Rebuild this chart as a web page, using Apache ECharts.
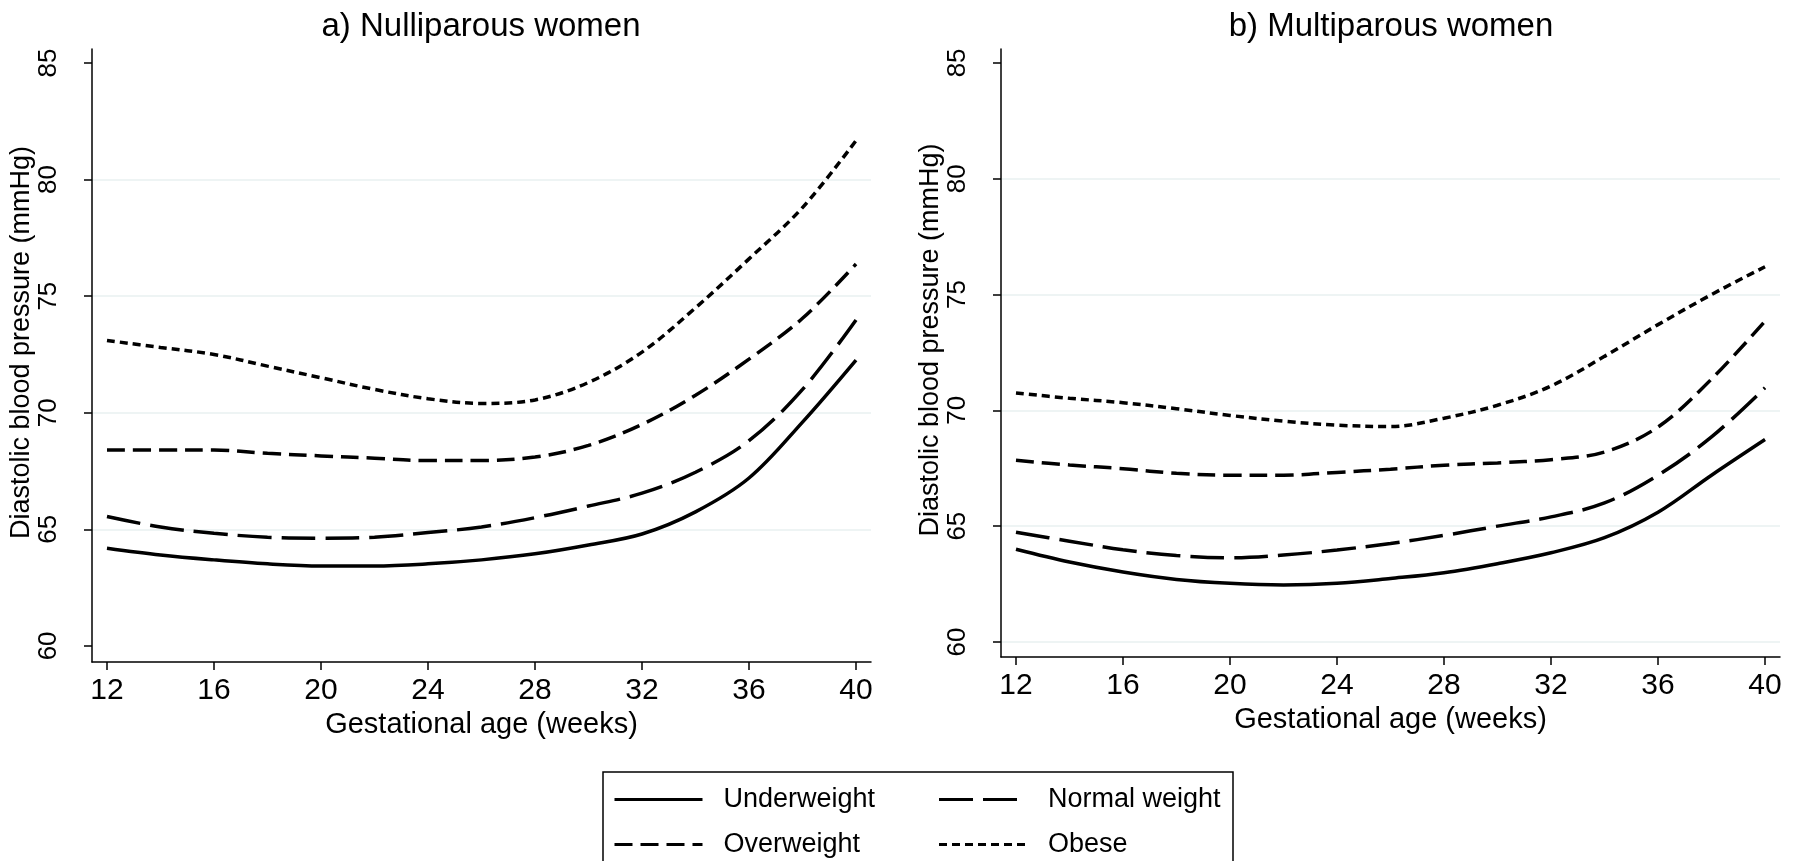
<!DOCTYPE html>
<html>
<head>
<meta charset="utf-8">
<title>Diastolic blood pressure by BMI</title>
<script src="https://cdn.jsdelivr.net/npm/echarts@6/dist/echarts.min.js"></script>
<style>
  html, body { margin: 0; padding: 0; background: #fff; }
  #chart { width: 1796px; height: 861px; }
</style>
</head>
<body>
<div id="chart"></div>
<script>
// gestational weeks (x) and tick labels
const weeks = [12, 14, 16, 18, 20, 22, 24, 26, 28, 30, 32, 34, 36, 38, 40]
const xTicks = [12, 16, 20, 24, 28, 32, 36, 40]
const yTicks = [60, 65, 70, 75, 80, 85]
const groups = ['Underweight', 'Normal weight', 'Overweight', 'Obese']

// a) nulliparous women
const nulliUnder = [64.19, 63.9, 63.69, 63.52, 63.43, 63.43, 63.52, 63.69, 63.95, 64.33, 64.8, 65.75, 67.2, 69.6, 72.26]
const nulliNormal = [65.55, 65.1, 64.83, 64.66, 64.62, 64.66, 64.86, 65.1, 65.5, 66.0, 66.55, 67.45, 68.8, 71.0, 73.98]
const nulliOver = [68.4, 68.4, 68.4, 68.26, 68.15, 68.05, 67.95, 67.95, 68.1, 68.6, 69.5, 70.75, 72.3, 74.05, 76.38]
const nulliObese = [73.1, 72.8, 72.5, 72.0, 71.5, 71.0, 70.6, 70.4, 70.55, 71.3, 72.6, 74.5, 76.6, 78.8, 81.67]

// b) multiparous women
const multiUnder = [64.0, 63.45, 63.02, 62.7, 62.53, 62.46, 62.53, 62.74, 62.99, 63.38, 63.85, 64.5, 65.6, 67.2, 68.74]
const multiNormal = [64.74, 64.35, 63.98, 63.73, 63.63, 63.75, 63.97, 64.25, 64.6, 65.0, 65.4, 66.0, 67.2, 68.85, 70.97]
const multiOver = [67.84, 67.64, 67.48, 67.28, 67.2, 67.2, 67.32, 67.46, 67.63, 67.73, 67.87, 68.2, 69.28, 71.35, 73.85]
const multiObese = [70.75, 70.52, 70.33, 70.07, 69.78, 69.53, 69.36, 69.3, 69.66, 70.22, 71.05, 72.33, 73.7, 75.0, 76.2]

const font = 'Liberation Sans, Arial, sans-serif'
const grid = '#e8f0f1'
const clear = 'rgba(0,0,0,0)'
// line pattern per BMI group
const dashes = ['solid', [34, 10], [18, 8], [8, 5]]

function pairs (vals) {
  return weeks.map((w, i) => [w, vals[i]])
}

function xAxisFor (idx) {
  return {
    gridIndex: idx,
    type: 'value',
    min: 11.44,
    max: 40.56,
    name: 'Gestational age (weeks)',
    nameLocation: 'middle',
    nameGap: 40,
    nameTextStyle: { fontFamily: font, fontSize: 29, color: '#000' },
    axisLine: { show: true, onZero: false, lineStyle: { color: '#000', width: 1.5 } },
    axisTick: { show: true, length: 8, customValues: xTicks, lineStyle: { color: '#000', width: 1.5 } },
    axisLabel: { customValues: xTicks, margin: 14, fontFamily: font, fontSize: 30, color: '#000' },
    splitLine: { show: false }
  }
}

function yAxisFor (idx, min, lineColors) {
  return {
    gridIndex: idx,
    type: 'value',
    min: min,
    max: 85.6,
    name: 'Diastolic blood pressure (mmHg)',
    nameLocation: 'middle',
    nameGap: 50,
    nameTextStyle: { fontFamily: font, fontSize: 27, color: '#000', padding: [0, 0, 0, 26] },
    axisLine: { show: true, onZero: false, lineStyle: { color: '#000', width: 1.5 } },
    axisTick: { show: true, length: 8, customValues: yTicks, lineStyle: { color: '#000', width: 1.5 } },
    axisLabel: { customValues: yTicks, rotate: 90, margin: 30, fontFamily: font, fontSize: 26, color: '#000' },
    splitLine: { show: true, lineStyle: { color: lineColors, width: 1.5 } }
  }
}

function lineSeries (name, vals, idx, k) {
  return {
    name: name,
    type: 'line',
    xAxisIndex: idx,
    yAxisIndex: idx,
    data: pairs(vals),
    smooth: 0.35,
    symbol: 'none',
    lineStyle: { color: '#000', width: 3.5, type: dashes[k] },
    itemStyle: { color: '#000' }
  }
}

const legendText = { fontFamily: font, fontSize: 27, lineHeight: 19, color: '#000', padding: [0, 0, 0, 16] }

const option = {
  backgroundColor: '#fff',
  animation: false,
  title: [
    { text: 'a) Nulliparous women', left: 481, top: 10, textAlign: 'center', padding: 0,
      textStyle: { fontFamily: font, fontSize: 33, fontWeight: 'normal', color: '#000' } },
    { text: 'b) Multiparous women', left: 1391, top: 10, textAlign: 'center', padding: 0,
      textStyle: { fontFamily: font, fontSize: 33, fontWeight: 'normal', color: '#000' } }
  ],
  grid: [
    { left: 92, top: 49, width: 779, height: 613 },
    { left: 1001, top: 49, width: 779, height: 608 }
  ],
  xAxis: [xAxisFor(0), xAxisFor(1)],
  yAxis: [
    yAxisFor(0, 59.31, [clear, grid, grid, grid, grid, clear]),
    yAxisFor(1, 59.35, [grid, grid, grid, grid, grid, clear])
  ],
  legend: {
    data: groups,
    orient: 'horizontal',
    left: 603,
    top: 772,
    width: 624,
    itemWidth: 88,
    itemHeight: 14,
    itemGap: 18,
    padding: [14, 1, 30, 10],
    borderColor: '#000',
    borderWidth: 1.5,
    selectedMode: false,
    itemStyle: { opacity: 0 },
    lineStyle: { width: 3 },
    // first column gets a wider text box so the second column lines up
    formatter: name => (groups.indexOf(name) % 2 === 0 ? '{a|' : '{b|') + name + '}',
    textStyle: {
      rich: {
        a: Object.assign({ width: 196 }, legendText),
        b: Object.assign({ width: 184 }, legendText)
      }
    }
  },
  series: [
    lineSeries(groups[0], nulliUnder, 0, 0),
    lineSeries(groups[1], nulliNormal, 0, 1),
    lineSeries(groups[2], nulliOver, 0, 2),
    lineSeries(groups[3], nulliObese, 0, 3),
    lineSeries(groups[0], multiUnder, 1, 0),
    lineSeries(groups[1], multiNormal, 1, 1),
    lineSeries(groups[2], multiOver, 1, 2),
    lineSeries(groups[3], multiObese, 1, 3)
  ]
}

const myChart = echarts.init(document.getElementById('chart'))
myChart.setOption(option)
</script>
</body>
</html>
